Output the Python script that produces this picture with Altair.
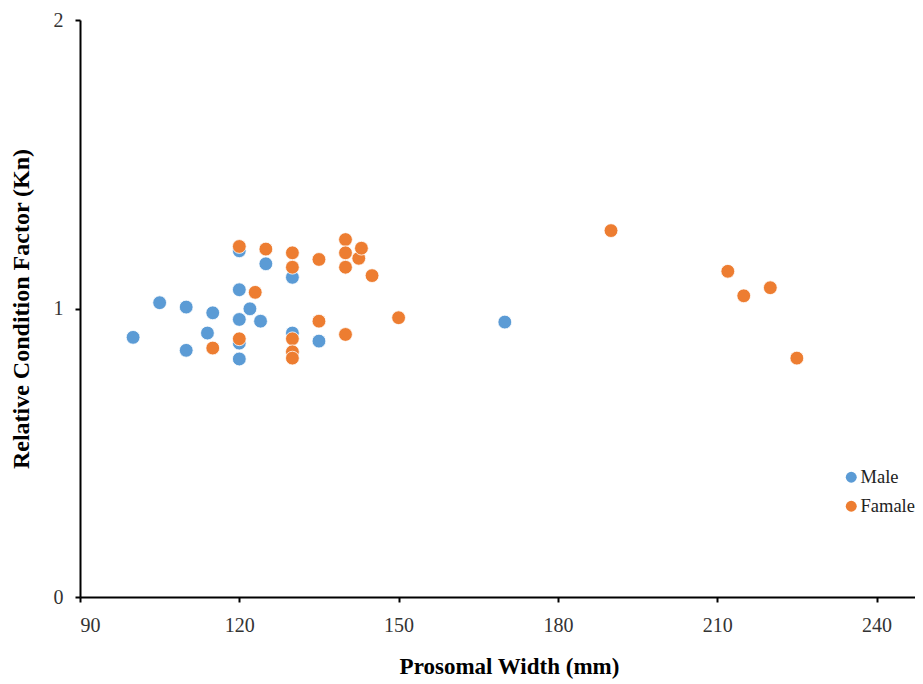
import altair as alt
import pandas as pd

male_x = [100, 105, 110, 110, 114, 115, 120, 120, 120, 120, 120, 122, 124, 125, 130, 130, 130, 135, 170]
male_y = [0.900, 1.020, 1.005, 0.855, 0.915, 0.985, 1.200, 1.065, 0.962, 0.880, 0.825, 0.999, 0.956, 1.155,
          1.108, 0.915, 0.849, 0.887, 0.953]
female_x = [115, 120, 120, 123, 125, 130, 130, 130, 130, 130, 135, 135, 140, 140, 140, 140, 142.5, 143, 145,
            150, 190, 212, 215, 220, 225]
female_y = [0.863, 1.215, 0.895, 1.056, 1.206, 1.193, 1.143, 0.895, 0.850, 0.828, 1.170, 0.956, 1.239, 1.193,
            1.143, 0.910, 1.174, 1.209, 1.114, 0.968, 1.270, 1.129, 1.044, 1.072, 0.828]
series = ["Male", "Famale"]
colors = ["#5B9BD5", "#ED7D31"]
x_ticks = [90, 120, 150, 180, 210, 240]
y_ticks = [0, 1, 2]

rows = []
for x, y in zip(male_x, male_y):
    rows.append({"w": x, "kn": y, "sex": series[0], "o": 0})
for x, y in zip(female_x, female_y):
    rows.append({"w": x, "kn": y, "sex": series[1], "o": 1})
df = pd.DataFrame(rows)

FONT = "Liberation Serif"
W = 835
H = 577

chart = alt.Chart(df).mark_circle(size=190, opacity=1, stroke="white", strokeWidth=0.8).encode(
    x=alt.X("w:Q", scale=alt.Scale(domain=[90, 247.25], nice=False, zero=False),
            axis=alt.Axis(values=x_ticks, title="Prosomal Width (mm)", titleX=429, titleY=58,
                          labelOverlap=False)),
    y=alt.Y("kn:Q", scale=alt.Scale(domain=[0, 2], nice=False),
            axis=alt.Axis(values=y_ticks, labelExpr="'' + round(datum.value)",
                          title="Relative Condition Factor (Kn)", titleX=-47, titleFontSize=24,
                          labelOverlap=False)),
    color=alt.Color("sex:N", scale=alt.Scale(domain=series, range=colors),
                    legend=alt.Legend(title=None, orient="none", legendX=762, legendY=448,
                                      symbolType="circle", symbolSize=120, labelFontSize=18.5,
                                      labelFont=FONT, labelColor="#222", rowPadding=10,
                                      labelOffset=0, symbolStrokeWidth=0, padding=0)),
    order=alt.Order("o:Q"),
).properties(
    width=W, height=H,
    autosize=alt.AutoSizeParams(type="none"),
    padding={"left": 72, "top": 12, "right": 0, "bottom": 86},
).configure_view(
    stroke=None
).configure_axis(
    grid=False,
    domainColor="#000", domainWidth=2,
    tickColor="#000", tickWidth=2, tickSize=5,
    labelFont=FONT, labelFontSize=20, labelColor="#333",
    titleFont=FONT, titleFontSize=23, titleFontWeight="bold", titleColor="#000",
).configure_axisY(
    labelPadding=12,
).configure_axisX(
    labelPadding=13,
)

chart.save("out.html", embed_options={"renderer": "svg", "actions": False})
